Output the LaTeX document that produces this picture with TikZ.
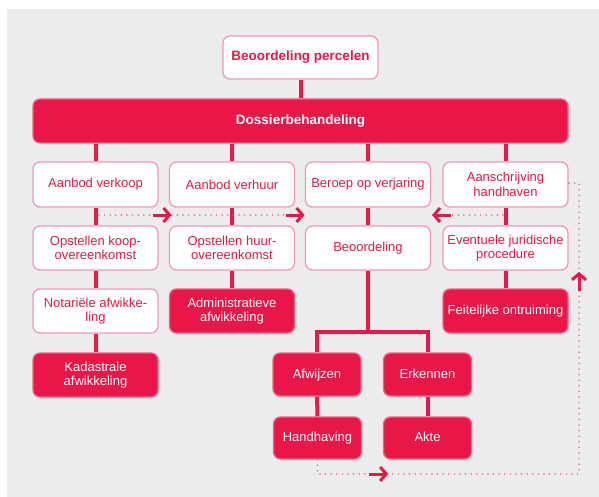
\documentclass[tikz,border=0pt]{standalone}
\usepackage{fontspec}
\setmainfont{Liberation Sans}
\usetikzlibrary{arrows.meta, decorations.markings}
\definecolor{rood}{RGB}{232,23,72}
\definecolor{roze}{RGB}{242,152,172}
\definecolor{grijs}{RGB}{236,236,236}
\tikzstyle{blok} = [draw=roze, line width=1.3pt, fill=white, rounded corners=7pt, text=rood, minimum width=125pt, minimum height=44pt, inner sep=0pt, align=center, font=\fontsize{13}{14.5}\selectfont]
\tikzstyle{rodeblok} = [blok, draw=roze!60!rood, fill=rood, text=white]
\tikzstyle{klein} = [minimum width=88pt, text height=9.5pt, text depth=2.5pt]
\tikzstyle{kop} = [font=\bfseries\fontsize{13.5}{15}\selectfont]
\tikzstyle{lijn} = [draw=rood, line width=4pt]
\tikzstyle{stip} = [draw=rood!70, line width=1.7pt, line cap=round, dash pattern=on 0pt off 5.6pt]
\tikzstyle{pijl} = [draw=rood, line width=3pt, solid, line cap=butt, -{Straight Barb[length=6pt,width=14pt]}]
\tikzset{pijlop/.style={postaction={decorate,decoration={markings,mark=at position #1 with {\draw[pijl] (-19pt,0pt) -- (0pt,0pt);}}}}}

\begin{document}
\begin{tikzpicture}[x=1pt,y=-1pt]
    \useasboundingbox (0,0) rectangle (599,497);
    \fill[grijs] (7,9) rectangle (599,497);

    % kop
    \node[blok, kop, minimum width=155pt, minimum height=43pt] (percelen) at (300.5,57.5) {Beoordeling percelen};
    \node[rodeblok, kop, minimum width=535pt] (dossier) at (300.5,121) {Dossierbehandeling};

    % eerste rij
    \node[blok, minimum height=45pt] (verkoop) at (95.5,184.5) {Aanbod verkoop};
    \node[blok, minimum height=45pt] (verhuur) at (232,184.5) {Aanbod verhuur};
    \node[blok, minimum height=45pt] (verjaring) at (368,184.5) {Beroep op verjaring};
    \node[blok, minimum height=45pt] (aanschrijving) at (505.5,184.5) {Aanschrijving\\handhaven};

    % tweede rij
    \node[blok] (koop) at (95.5,248) {Opstellen koop-\\overeenkomst};
    \node[blok] (huur) at (232,248) {Opstellen huur-\\overeenkomst};
    \node[blok] (beoordeling) at (368,248) {Beoordeling};
    \node[blok] (procedure) at (505.5,248) {Eventuele juridische\\procedure};

    % derde rij
    \node[blok] (notaris) at (95.5,311) {Notariële afwikke-\\ling};
    \node[rodeblok] (administratief) at (232,311) {Administratieve\\afwikkeling};
    \node[rodeblok] (ontruiming) at (505.5,311) {Feitelijke ontruiming};
    \node[rodeblok] (kadaster) at (95.5,375) {Kadastrale\\afwikkeling};

    % verjaring
    \node[rodeblok, klein, minimum height=43pt] (afwijzen) at (317,374.5) {Afwijzen};
    \node[rodeblok, klein, minimum height=43pt] (erkennen) at (427.5,374.5) {Erkennen};
    \node[rodeblok, klein, minimum height=42pt] (handhaving) at (317.5,438) {Handhaving};
    \node[rodeblok, klein, minimum height=42pt] (akte) at (427.5,438) {Akte};

    \coordinate (splits) at (368,332);
    \coordinate (links) at (99,215);
    \coordinate (rechts) at (503,215);
    \coordinate (onder) at (579,474);
    \coordinate (boven) at (579,183);

    % verbindingen
    \draw[lijn] (percelen) -- (dossier);
    \draw[lijn] (verkoop.north) -- (verkoop.north |- dossier.south);
    \draw[lijn] (verhuur.north) -- (verhuur.north |- dossier.south);
    \draw[lijn] (verjaring.north) -- (verjaring.north |- dossier.south);
    \draw[lijn] (aanschrijving.north) -- (aanschrijving.north |- dossier.south);
    \draw[lijn] (verkoop) -- (koop);
    \draw[lijn] (koop) -- (notaris);
    \draw[lijn] (notaris) -- (kadaster);
    \draw[lijn] (verhuur) -- (huur);
    \draw[lijn] (huur) -- (administratief);
    \draw[lijn] (verjaring) -- (beoordeling);
    \draw[lijn] (aanschrijving) -- (procedure);
    \draw[lijn] (procedure) -- (ontruiming);
    \draw[lijn] (beoordeling) -- (splits);
    \draw[lijn] (afwijzen) |- (splits) -| (erkennen);
    \draw[lijn] (afwijzen) -- (handhaving);
    \draw[lijn] (erkennen) -- (akte);

    % stippellijnen
    \draw[stip, pijlop=72.5pt, pijlop=205.5pt] (links) -- (verjaring.west |- links);
    \draw[stip, pijlop=71pt] (rechts) -- (verjaring.east |- rechts);
    \draw[stip, pijlop=85pt, pijlop=478pt] (handhaving.south) |- (onder) -- (boven) -- (aanschrijving.east |- boven);
\end{tikzpicture}
\end{document}
